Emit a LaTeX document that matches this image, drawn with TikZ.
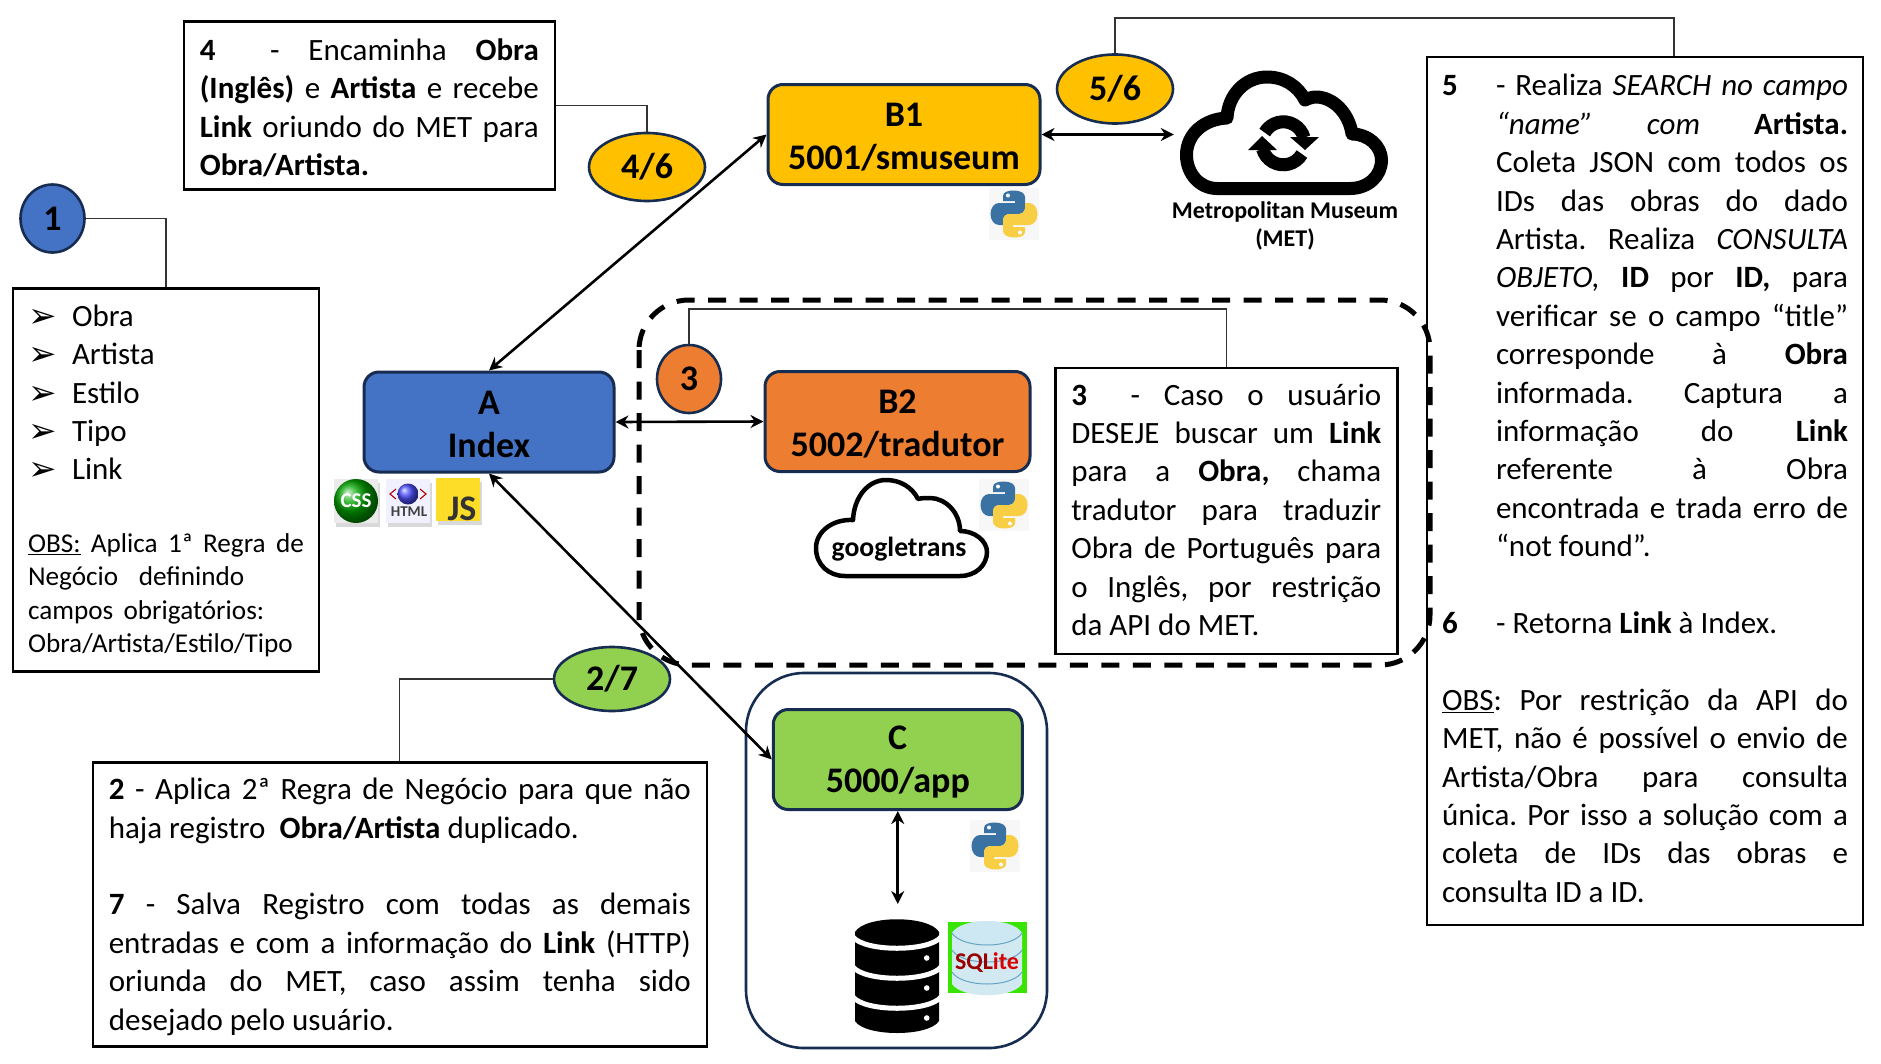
\documentclass[tikz,border=0pt]{standalone}
\usepackage{fontspec}
\setmainfont{Carlito}
\newfontfamily\symfont{DejaVu Sans}
\usetikzlibrary{arrows.meta,shapes.geometric,shadows}
\setlength{\parindent}{0pt}

\definecolor{boxblue}{HTML}{4472C4}
\definecolor{boxorange}{HTML}{ED7D31}
\definecolor{boxgold}{HTML}{FFC000}
\definecolor{boxgreen}{HTML}{92D050}
\definecolor{edgenavy}{HTML}{172C51}
\definecolor{pyblue}{HTML}{3A72A4}
\definecolor{pyyellow}{HTML}{F8CE45}

\newcommand{\bodyfont}{\fontsize{31}{38.4}\selectfont\frenchspacing}
\newcommand{\bul}[1]{\makebox[44pt][l]{\smash{\raisebox{-1pt}{\fontsize{34}{34}\selectfont\symfont\char"27A2}}}#1\par}
\newcommand{\headgap}[1]{\hrule height 0pt\vskip #1}
\newcommand{\tailgap}[1]{\par\vskip #1\hrule height 0pt}

\tikzset{
  infobox/.style={draw=black, line width=2.6pt, fill=white, anchor=north west, inner ysep=0pt, inner xsep=16pt, align=justify, font=\bodyfont},
  srvbox/.style={draw=edgenavy, line width=3pt, rounded corners=15pt, minimum height=100pt, inner sep=0pt},
  srvtext/.style={align=center, inner sep=0pt, font=\fontsize{36}{43}\selectfont\bfseries},
  oval/.style={ellipse, draw=edgenavy, line width=2.6pt, inner sep=0pt, font=\fontsize{36}{43}\selectfont\bfseries},
  leader/.style={draw=black!80, line width=1.1pt},
  link/.style={<->, >={Stealth[length=13pt,width=13pt]}, line width=2.6pt},
  pics/pylogo/.style={code={
    \fill[black!3] (-25,-26) rectangle (25,26);
    \foreach \rot/\col in {0/pyblue,180/pyyellow} {
      \begin{scope}[rotate=\rot]
        \fill[\col] (-11,-18) .. controls (-11,-22) and (-6,-23.5) .. (0,-23.5)
          .. controls (6,-23.5) and (11,-21) .. (11,-17) -- (11,-5)
          .. controls (11,-2) and (8,0) .. (5,0) -- (-5,0)
          .. controls (-8,0) and (-11,3) .. (-11,6) -- (-11,11) -- (-15,11)
          .. controls (-20,11) and (-23.5,6) .. (-23.5,0)
          .. controls (-23.5,-6) and (-20,-11) .. (-15,-11)
          -- (1,-11) -- (1,-13) -- (-11,-13) -- cycle;
        \fill[white] (-6,-18.5) circle (2pt);
      \end{scope}
    }
  }}
}

\begin{document}
\begin{tikzpicture}[x=1pt,y=-1pt]
  \useasboundingbox (0,0) rectangle (1881,1063);

  % the frame round C and the dashed region
  \draw[draw=edgenavy, line width=2.6pt, rounded corners=58pt] (746,673) rectangle (1047,1048);

  % the text boxes
  \node[infobox, text width=276pt, inner xsep=15pt, minimum height=383pt, align=left] (box1) at (11.7,287) {
    \headgap{2.5pt}
    \bul{Obra}\bul{Artista}\bul{Estilo}\bul{Tipo}\bul{Link}
    \fontsize{27.2}{33.5}\selectfont\vskip 39pt
    \mbox{\underline{OBS:} Aplica 1ª Regra de}\par
    \mbox{Negócio\ \ definindo}\par
    \mbox{campos obrigatórios:}\par
    \mbox{Obra/Artista/Estilo/Tipo}\par};
  \node[infobox, text width=339pt, minimum height=168pt] (box4) at (182.5,20) {
    \headgap{5pt}
    \textbf{4}\hspace{26pt} - Encaminha \textbf{Obra}\linebreak
    \textbf{(Inglês)} e \textbf{Artista} e recebe\linebreak
    \textbf{Link} oriundo do MET para\linebreak
    \textbf{Obra/Artista.}\par};
  \node[infobox, text width=310pt, minimum height=286pt] (box3) at (1054,366.5) {
    \textbf{3}\hspace{20pt} - Caso o usuário\linebreak
    DESEJE buscar um \textbf{Link}\linebreak
    para a \textbf{Obra,} chama\linebreak
    tradutor para traduzir\linebreak
    Obra de Português para\linebreak
    o Inglês, por restrição\linebreak
    da API do MET.\tailgap{2pt}};
  \node[infobox, text width=582pt, minimum height=284pt] (box2) at (91.5,761) {
    \headgap{5pt}
    \textbf{2} - Aplica 2ª Regra de Negócio para que não\linebreak
    haja registro\ \ \textbf{Obra/Artista} duplicado.\par
    \vspace{38.4pt}
    \textbf{7} - Salva Registro com todas as demais\linebreak
    entradas e com a informação do \textbf{Link} (HTTP)\linebreak
    oriunda do MET, caso assim tenha sido\linebreak
    desejado pelo usuário.\par};
  \node[infobox, text width=406pt, inner xsep=15pt, minimum height=868pt] (box5) at (1425.7,55.7) {
    \hangindent=54pt\hangafter=1
    \makebox[54pt][l]{\textbf{5}}- Realiza \textit{SEARCH no campo}\linebreak
    \textit{“name”} \textit{com} \textbf{Artista.}\linebreak
    Coleta JSON com todos os\linebreak
    IDs das obras do dado\linebreak
    Artista. Realiza \textit{CONSULTA}\linebreak
    \textit{OBJETO,} \textbf{ID} por \textbf{ID,} para\linebreak
    verificar se o campo “title”\linebreak
    corresponde à \textbf{Obra}\linebreak
    informada. Captura a\linebreak
    informação do \textbf{Link}\linebreak
    referente à Obra\linebreak
    encontrada e trada erro de\linebreak
    “not found”.\par
    \vspace{38.4pt}
    \makebox[54pt][l]{\textbf{6}}- Retorna \textbf{Link} à Index.\par
    \vspace{38.4pt}
    \underline{OBS}: Por restrição da API do\linebreak
    MET, não é possível o envio de\linebreak
    Artista/Obra para consulta\linebreak
    única. Por isso a solução com a\linebreak
    coleta de IDs das obras e\linebreak
    consulta ID a ID.\tailgap{5pt}};

  \draw[line width=5pt, dash pattern=on 18pt off 13.5pt, rounded corners=50pt] (639,300) rectangle (1430,665);

  % the services
  \node[srvbox, fill=boxblue, minimum width=250pt] (A) at (489,422) {};
  \node[srvbox, fill=boxgold, minimum width=272pt] (B1) at (904,134.5) {};
  \node[srvbox, fill=boxorange, minimum width=265pt] (B2) at (897.5,421.5) {};
  \node[srvbox, fill=boxgreen, minimum width=249pt] (C) at (897.75,759.5) {};
  \node[srvtext] (Atxt) at ([yshift=-2.5pt]A.center) {A\\Index};
  \node[srvtext] (B1txt) at ([yshift=-2.5pt]B1.center) {B1\\5001/smuseum};
  \node[srvtext] (B2txt) at ([yshift=-2.5pt]B2.center) {B2\\5002/tradutor};
  \node[srvtext] (Ctxt) at ([yshift=-2.5pt]C.center) {C\\5000/app};

  % the numbered ovals
  \node[oval, fill=boxblue, minimum width=64pt, minimum height=68pt] (n1) at (52.5,218.5) {1};
  \node[oval, fill=boxgold, minimum width=116pt, minimum height=68pt] (n46) at (647,167) {4/6};
  \node[oval, fill=boxgold, minimum width=116pt, minimum height=69pt] (n56) at (1115,89) {5/6};
  \node[oval, fill=boxorange, minimum width=64pt, minimum height=68pt] (n3) at (689,379) {3};
  \node[oval, fill=boxgreen, minimum width=116pt, minimum height=64pt] (n27) at (612,679) {2/7};

  % the met cloud
  \node[minimum width=214pt, minimum height=127pt, inner sep=0pt] (met) at (1281,134.5) {};
  \draw[line width=13pt, line join=round] (1217,188.5) -- (1350,188.5)
    .. controls (1368,188.5) and (1381.5,176) .. (1381.5,160)
    .. controls (1381.5,146) and (1368,134) .. (1352,134)
    .. controls (1349,113) and (1333,97) .. (1316,97)
    .. controls (1312,97) and (1308,98.5) .. (1305,100)
    .. controls (1298,86) and (1284,77) .. (1267,77)
    .. controls (1245,77) and (1228,95) .. (1227,118)
    .. controls (1204,119) and (1186.5,134) .. (1186.5,155)
    .. controls (1186.5,174) and (1200,188.5) .. (1217,188.5) -- cycle;
  \coordinate (sync) at (1283.3,143.3);
  \draw[line width=13pt] (sync) ++(150:21.5pt) arc[start angle=150, end angle=15, radius=21.5pt];
  \draw[line width=13pt] (sync) ++(-30:21.5pt) arc[start angle=-30, end angle=-165, radius=21.5pt];
  \fill (1290,137) -- (1319,137) -- (1305,150) -- cycle;
  \fill (1248,150) -- (1277,150) -- (1262,136) -- cycle;
  \node[font=\fontsize{24}{28}\selectfont\bfseries, align=center, inner sep=0pt] (metlabel) at (1285,226) {Metropolitan Museum\\(MET)};

  % the googletrans cloud
  \draw[line width=4.5pt, line join=round, fill=white] (845,576) -- (960,576)
    .. controls (976,576) and (987,565) .. (987,552)
    .. controls (987,541) and (975,531) .. (960,531)
    .. controls (960,512) and (945,498) .. (930,498)
    .. controls (926,498) and (921,498) .. (918,499)
    .. controls (912,487) and (900,480) .. (886,480)
    .. controls (868,480) and (854,497) .. (853,520)
    .. controls (832,519) and (816,532) .. (816,548)
    .. controls (816,565) and (829,576) .. (845,576) -- cycle;
  \node[font=\fontsize{27.7}{33}\selectfont\bfseries, inner sep=0pt] (gtrans) at (899,549) {googletrans};

  % the python logos
  \pic (pyb1) at (1014,214) {pylogo};
  \pic (pyb2) at (1004,505) {pylogo};
  \pic (pyc) at (995,846) {pylogo};

  % the web icons
  \fill[black!15] (336,483) rectangle (380,527);
  \fill[black!15] (388,483) rectangle (432,527);
  \fill[black!15] (438,482) rectangle (482,525);
  \fill[black!8] (334,479) rectangle (378,523);
  \node[circle, ball color=green!65!black, minimum size=44pt, inner sep=0pt, text=white, font=\fontsize{21}{21}\selectfont\bfseries] (css) at (356,501) {CSS};
  \node[fill=blue!6, minimum width=44pt, minimum height=44pt, inner sep=0pt] (htmlbg) at (408,501) {};
  \shade[ball color=blue!70!white] (408,494) circle (10.5pt);
  \draw[red!70!black, line width=1.1pt] (396,489) -- (390,494) -- (396,499);
  \draw[red!70!black, line width=1.1pt] (420,489) -- (426,494) -- (420,499);
  \node[font=\fontsize{15}{15}\selectfont\bfseries, text=black!75, inner sep=0pt] (html) at (409,512) {HTML};
  \node[fill=yellow!75!orange!85!white, minimum width=44pt, minimum height=43pt, inner sep=0pt] (jsbg) at (458,499.5) {};
  \node[font=\fontsize{36}{36}\selectfont\bfseries, text=black!80, inner sep=0pt] (js) at (462,509) {JS};

  % the database
  \coordinate (dbtop) at (897.75,904);
  \fill (855,932) -- (855,1021) .. controls (865,1037) and (929,1037) .. (939,1021) -- (939,932)
    .. controls (929,915) and (865,915) .. (855,932) -- cycle;
  \foreach \yy in {937,967,997} {
    \draw[white, line width=5pt] (853,\yy) .. controls (865,\yy+15) and (929,\yy+15) .. (941,\yy);
    \fill[white] (926.7,\yy+21) circle (2.8pt);
  }

  % the sqlite icon
  \fill[green!85!black!70!lime] (948,922) rectangle (1027,993);
  \fill[cyan!15!white!90!gray] (952,933) -- (952,984) .. controls (962,999) and (1012,999) .. (1022,984) -- (1022,933)
    .. controls (1012,917) and (962,917) .. (952,933) -- cycle;
  \fill[gray!35!cyan!25!white] (952,933) .. controls (962,949) and (1012,949) .. (1022,933)
    .. controls (1012,917) and (962,917) .. (952,933) -- cycle;
  \foreach \yy in {933,950,972} {
    \draw[cyan!50!gray, line width=1pt] (952,\yy) .. controls (962,\yy+16) and (1012,\yy+16) .. (1022,\yy);
  }
  \node[font=\fontsize{24}{24}\selectfont\bfseries, text=red!60!black, inner sep=0pt] (sqlite) at (987,963) {SQL\textcolor{red!85!black}{ite}};

  % draw the leader lines
  \draw[leader] (n1.east) -| (box1.north);
  \draw[leader] (box4.east) -| (n46.north);
  \coordinate (c56) at (1115,18);
  \draw[leader] (n56.north) -- (c56) -| ([xshift=29pt]box5.north);
  \coordinate (c3) at (689,309);
  \draw[leader] (n3.north) -- (c3) -| (box3.north);
  \draw[leader] (n27.west) -| (box2.north);

  % draw the arrows
  \draw[link] (A.north) -- (B1.west);
  \draw[link] (A.east) -- (B2.west);
  \draw[link] (A.south) -- (C.west);
  \draw[link] (B1.east) -- (met.west);
  \draw[link] (C.south) -- (dbtop);
\end{tikzpicture}
\end{document}
